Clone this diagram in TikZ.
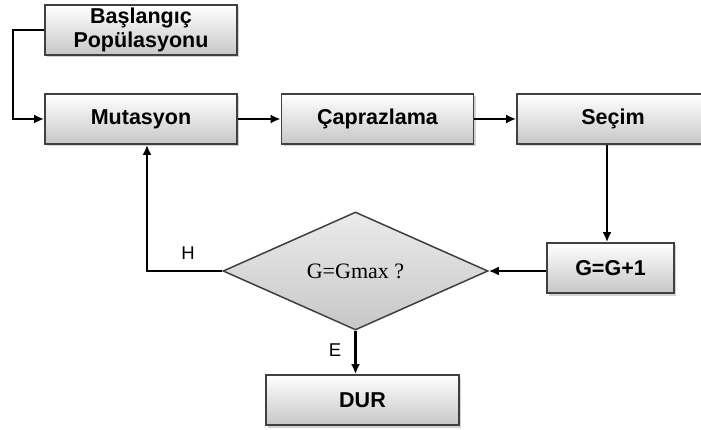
\documentclass[tikz,border=0pt]{standalone}
\usepackage{fontspec}
\setmainfont{Liberation Sans}
\newfontfamily\serifface{Liberation Serif}
\usetikzlibrary{shapes.geometric}
\usetikzlibrary{shadows}
\usetikzlibrary{arrows.meta}
\usetikzlibrary{calc}

\begin{document}
\begin{tikzpicture}[x=1pt, y=-1pt]
        % ================= styles =================
        \tikzset{
            % gray gradient process box
            pbox/.style={rectangle, draw=black!75, line width=1.8pt, top color=white, bottom color=black!22,
                minimum width=192pt, minimum height=50pt, inner sep=0pt, align=center,
                font=\fontsize{21.5}{24}\selectfont\bfseries,
                drop shadow={shadow xshift=2pt, shadow yshift=-2.5pt, opacity=0.35}},
            % decision diamond
            dnode/.style={diamond, draw=black!75, line width=1.5pt, top color=black!8, bottom color=black!22,
                minimum width=265pt, minimum height=118pt, inner sep=0pt,
                font=\serifface\fontsize{22}{24}\selectfont},
            % black flow line
            flow/.style={line width=2.6pt, black, -{Latex[length=10pt, width=9pt]}},
            % branch label
            blabel/.style={font=\fontsize{18.5}{20}\selectfont}
        }

        % ================= frame =================
        \useasboundingbox (0,0) rectangle (701,430);

        % ================= nodes =================
        \node[pbox] (basl) at (141,30)    {Başlangıç\\Popülasyonu};
        \node[pbox] (mut)  at (141,119)   {Mutasyon};
        \node[pbox] (capr) at (377.5,119) {Çaprazlama};
        \node[pbox] (sec)  at (613,119)   {Seçim};
        \node[pbox, minimum width=127pt] (ginc) at (610.5,268) {G=G+1};
        \node[dnode] (dec) at (355.5,271) {G=Gmax ?};
        \node[pbox, minimum width=193pt] (dur) at (362.5,400) {DUR};

        % helper points for the loops
        \coordinate (start_l) at (13,30);
        \coordinate (back_c) at (147,271);

        % ================= connectors =================
        \draw[flow] (basl.west) -- (start_l) |- (mut.west);
        \draw[flow] (mut.east) -- (capr.west);
        \draw[flow] (capr.east) -- (sec.west);
        \draw[flow] (sec.south -| 607,0) -- (ginc.north -| 607,0);
        \draw[flow] (ginc.west |- dec.east) -- (dec.east);
        \draw[flow] (dec.west) -- (back_c) -- (back_c |- mut.south);
        \draw[flow] (dec.south) -- (dec.south |- dur.north);

        % ================= labels =================
        \node[blabel] (hlab) at (188,253) {H};
        \node[blabel] (elab) at (335,350) {E};

    \end{tikzpicture}
\end{document}
